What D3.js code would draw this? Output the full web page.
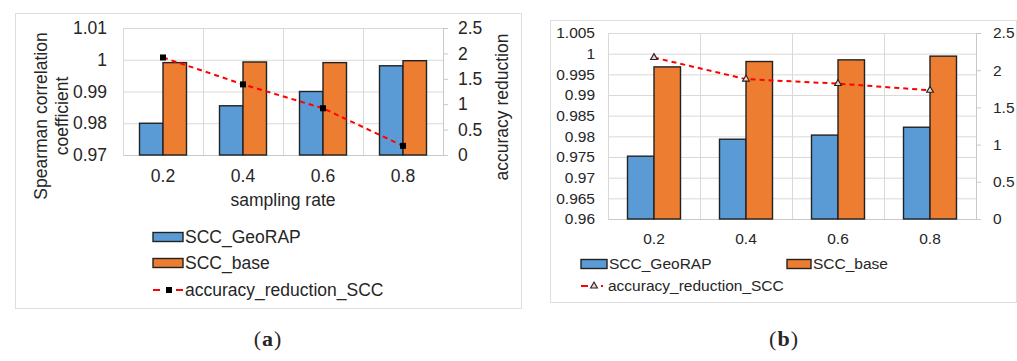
<!DOCTYPE html>
<html>
<head>
<meta charset="utf-8">
<script src="https://cdn.jsdelivr.net/npm/d3@7/dist/d3.min.js"></script>
<style>
  body { margin: 0; background: #fff; }
  svg { display: block; }
  text { font-family: "Liberation Sans", Arial, sans-serif; fill: #262626; }
</style>
</head>
<body>
<div id="chart"></div>
<script>
// sampling rates (x categories)
var rates = ["0.2", "0.4", "0.6", "0.8"];

// panel (a)
var sccGeoA = [0.980, 0.9855, 0.990, 0.9981];
var sccBaseA = [0.9991, 0.9993, 0.9991, 0.9997];
var reductionA = [1.92, 1.39, 0.92, 0.18];
var leftTicksA = [0.97, 0.98, 0.99, 1, 1.01];

// panel (b)
var sccGeoB = [0.9752, 0.9793, 0.9803, 0.9822];
var sccBaseB = [0.9968, 0.9981, 0.9985, 0.9994];
var reductionB = [2.17, 1.88, 1.82, 1.73];
var leftTicksB = [0.96, 0.965, 0.97, 0.975, 0.98, 0.985, 0.99, 0.995, 1, 1.005];

var rightTicks = [0, 0.5, 1, 1.5, 2, 2.5];
var seriesNames = ["SCC_GeoRAP", "SCC_base", "accuracy_reduction_SCC"];

var blue = "#5b9bd5",
    orange = "#ed7d31",
    grid = "#d9d9d9";

var width = 1017,
    height = 361;

var svg = d3.select("#chart")
    .append("svg")
    .attr("width", width)
    .attr("height", height);

var fmt = function(d) { return String(+d.toFixed(3)); };

function drawPanel(cfg) {
    var g = svg.append("g");

    // outer frame
    g.append("rect")
        .attr("x", cfg.frame[0] + 0.5).attr("y", cfg.frame[1] + 0.5)
        .attr("width", cfg.frame[2] - cfg.frame[0]).attr("height", cfg.frame[3] - cfg.frame[1])
        .attr("fill", "none").attr("stroke", "#dedede");

    var x = d3.scaleBand().domain(rates).range([cfg.left, cfg.right]);
    var xs = d3.scaleBand().domain([0, 1]).range([cfg.gOff, x.bandwidth() - cfg.gOff]);
    var y = d3.scaleLinear().domain([cfg.leftTicks[0], cfg.leftTicks[cfg.leftTicks.length - 1]]).range([cfg.bottom, cfg.top]);
    var y2 = d3.scaleLinear().domain([0, 2.5]).range([cfg.bottom, cfg.top]);

    // horizontal grid + left labels
    var ly = g.append("g")
        .attr("transform", "translate(" + cfg.left + ",0)")
        .call(d3.axisLeft(y).tickValues(cfg.leftTicks).tickFormat(fmt)
            .tickSize(-(cfg.right - cfg.left)).tickPadding(cfg.leftPad));
    ly.select(".domain").remove();
    ly.selectAll("line").attr("stroke", grid);
    ly.selectAll("text").style("font-size", cfg.fs + "px").attr("fill", cfg.color);

    // vertical grid at band edges
    var edges = rates.map(function(r) { return x(r); }).concat([cfg.right]);
    g.selectAll(".vgrid")
        .data(edges)
        .enter()
        .append("line")
        .attr("x1", function(d) { return Math.round(d) + 0.5; })
        .attr("x2", function(d) { return Math.round(d) + 0.5; })
        .attr("y1", cfg.top).attr("y2", cfg.bottom)
        .attr("stroke", grid);

    // x labels
    var bx = g.append("g")
        .attr("transform", "translate(0," + cfg.bottom + ")")
        .call(d3.axisBottom(x).tickSize(0).tickPadding(cfg.xPad));
    bx.select(".domain").attr("stroke", "#c8c8c8");
    bx.selectAll("text").style("font-size", cfg.fs + "px").attr("fill", cfg.color);

    // bars
    var groups = g.selectAll(".grp")
        .data(rates)
        .enter()
        .append("g")
        .attr("transform", function(d) { return "translate(" + x(d) + ",0)"; });
    groups.append("rect")
        .attr("x", xs(0)).attr("width", xs.bandwidth())
        .attr("y", function(d, i) { return y(cfg.geo[i]); })
        .attr("height", function(d, i) { return cfg.bottom - y(cfg.geo[i]); })
        .attr("fill", blue).attr("stroke", "#222").attr("stroke-width", 1.4);
    groups.append("rect")
        .attr("x", xs(1)).attr("width", xs.bandwidth())
        .attr("y", function(d, i) { return y(cfg.base[i]); })
        .attr("height", function(d, i) { return cfg.bottom - y(cfg.base[i]); })
        .attr("fill", orange).attr("stroke", "#222").attr("stroke-width", 1.4);

    // right axis
    var ry = g.append("g")
        .attr("transform", "translate(" + cfg.right + ",0)")
        .call(d3.axisRight(y2).tickValues(rightTicks).tickFormat(fmt)
            .tickSizeOuter(0).tickSizeInner(5).tickPadding(cfg.rightPad));
    ry.select(".domain").attr("stroke", "#c8c8c8");
    ry.selectAll("line").attr("stroke", "#c8c8c8");
    ry.selectAll("text").style("font-size", cfg.fs + "px").attr("fill", cfg.color);

    // reduction line
    var cx = function(d, i) { return x(rates[i]) + x.bandwidth() / 2; };
    var line = d3.line()
        .x(cx)
        .y(function(d) { return y2(d); });
    g.append("path")
        .datum(cfg.red)
        .attr("d", line)
        .attr("fill", "none")
        .attr("stroke", "#ff0000")
        .attr("stroke-width", 2)
        .attr("stroke-dasharray", "5,4");

    if (cfg.marker == "square") {
        g.selectAll(".mk")
            .data(cfg.red)
            .enter()
            .append("rect")
            .attr("x", function(d, i) { return cx(d, i) - 3; })
            .attr("y", function(d) { return y2(d) - 3; })
            .attr("width", 6).attr("height", 6)
            .attr("fill", "#000");
    } else {
        var tri = d3.symbol().type(d3.symbolTriangle).size(20);
        g.selectAll(".mk")
            .data(cfg.red)
            .enter()
            .append("path")
            .attr("d", tri)
            .attr("transform", function(d, i) { return "translate(" + cx(d, i) + "," + y2(d) + ")"; })
            .attr("fill", "#f0d0c8")
            .attr("stroke", "#222")
            .attr("stroke-width", 1.1);
    }

    // axis titles
    if (cfg.titles) {
        cfg.titles(g);
    }

    // legend
    cfg.legend(g);
}

function swatch(g, x0, yc, w, color, label, fs) {
    g.append("rect")
        .attr("x", x0).attr("y", yc - 4.5)
        .attr("width", w).attr("height", 9)
        .attr("fill", color).attr("stroke", "#222").attr("stroke-width", 1.4);
    g.append("text")
        .attr("x", x0 + w + 2).attr("y", yc)
        .attr("dy", "0.35em")
        .style("font-size", fs + "px")
        .text(label);
}

drawPanel({
    frame: [15, 13, 521, 308],
    left: 123, right: 443, top: 28, bottom: 155,
    gOff: 16.5,
    leftTicks: leftTicksA,
    geo: sccGeoA, base: sccBaseA, red: reductionA,
    fs: 17.5, color: "#262626",
    leftPad: 16, rightPad: 10, xPad: 15,
    marker: "square",
    titles: function(g) {
        g.append("text")
            .attr("x", 283).attr("y", 206)
            .attr("text-anchor", "middle")
            .style("font-size", "17.5px")
            .text("sampling rate");
        var t = g.append("text")
            .attr("transform", "translate(51,116) rotate(-90)")
            .attr("text-anchor", "middle")
            .style("font-size", "17.5px");
        t.append("tspan").attr("x", 0).attr("y", -4).text("Spearman correlation");
        t.append("tspan").attr("x", 0).attr("y", 17).text("coefficient");
        g.append("text")
            .attr("transform", "translate(508,107) rotate(-90)")
            .attr("text-anchor", "middle")
            .style("font-size", "17.5px")
            .text("accuracy reduction");
    },
    legend: function(g) {
        swatch(g, 153, 237, 30, blue, seriesNames[0], 17.5);
        swatch(g, 153, 263, 30, orange, seriesNames[1], 17.5);
        g.append("line").attr("x1", 153).attr("x2", 160).attr("y1", 290).attr("y2", 290)
            .attr("stroke", "#ff0000").attr("stroke-width", 2);
        g.append("rect").attr("x", 166).attr("y", 287).attr("width", 6).attr("height", 6).attr("fill", "#000");
        g.append("line").attr("x1", 176).attr("x2", 183).attr("y1", 290).attr("y2", 290)
            .attr("stroke", "#ff0000").attr("stroke-width", 2);
        g.append("text").attr("x", 185).attr("y", 290).attr("dy", "0.35em")
            .style("font-size", "17.5px").text(seriesNames[2]);
    }
});

drawPanel({
    frame: [550, 20, 1016, 302],
    left: 608, right: 976, top: 33, bottom: 219,
    gOff: 19.5,
    leftTicks: leftTicksB,
    geo: sccGeoB, base: sccBaseB, red: reductionB,
    fs: 15.5, color: "#333",
    leftPad: 13, rightPad: 12, xPad: 14,
    marker: "triangle",
    legend: function(g) {
        swatch(g, 581, 264, 26, blue, seriesNames[0], 15.5);
        swatch(g, 787, 264, 24, orange, seriesNames[1], 15.5);
        g.append("line").attr("x1", 581).attr("x2", 588).attr("y1", 286).attr("y2", 286)
            .attr("stroke", "#ff0000").attr("stroke-width", 2);
        g.append("path").attr("d", d3.symbol().type(d3.symbolTriangle).size(20))
            .attr("transform", "translate(594,286)")
            .attr("fill", "#f0d0c8").attr("stroke", "#222").attr("stroke-width", 1.1);
        g.append("line").attr("x1", 601).attr("x2", 603).attr("y1", 286).attr("y2", 286)
            .attr("stroke", "#ff0000").attr("stroke-width", 2);
        g.append("text").attr("x", 608).attr("y", 286).attr("dy", "0.35em")
            .style("font-size", "15.5px").text(seriesNames[2]);
    }
});

// captions
[["a", 268], ["b", 784]].forEach(function(c) {
    var t = svg.append("text")
        .attr("x", c[1]).attr("y", 346)
        .attr("text-anchor", "middle")
        .style("font-family", "'Liberation Serif', 'Times New Roman', serif")
        .style("font-size", "22px")
        .style("letter-spacing", "1px")
        .attr("fill", "#000");
    t.append("tspan").text("(");
    t.append("tspan").attr("font-weight", "bold").text(c[0]);
    t.append("tspan").text(")");
});
</script>
</body>
</html>
